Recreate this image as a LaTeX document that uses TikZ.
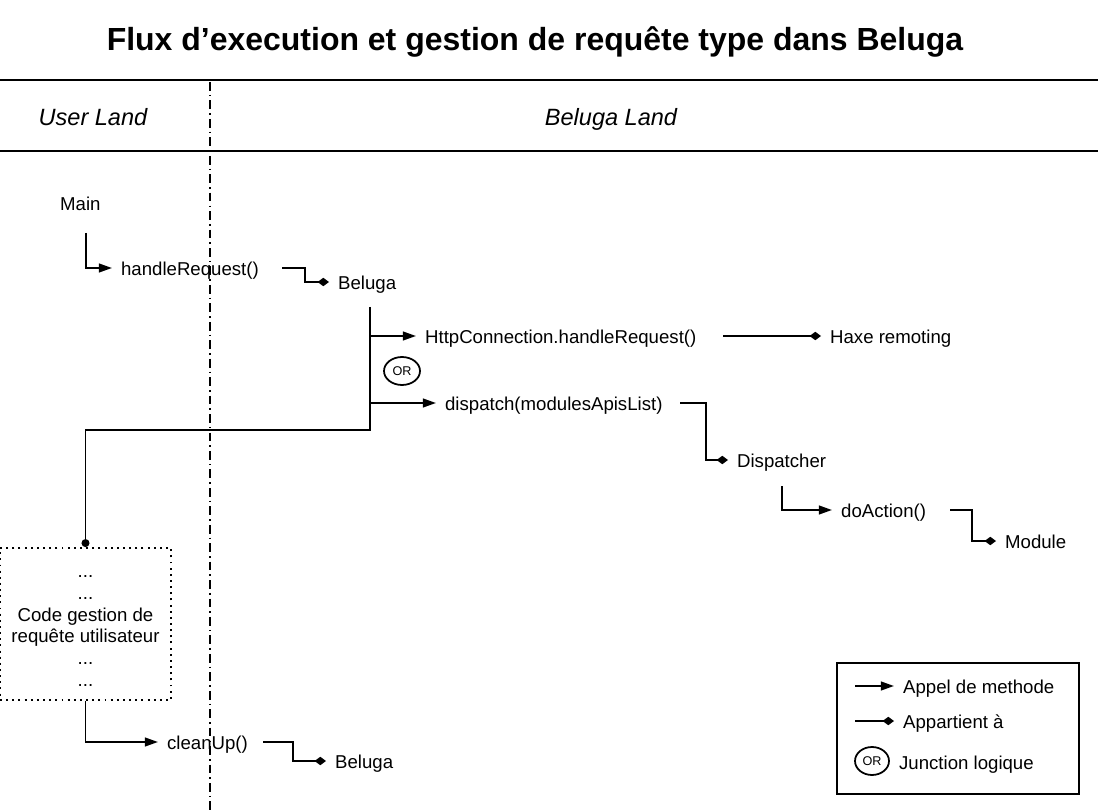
\documentclass[tikz,border=0pt]{standalone}
\usepackage{fontspec}
\setmainfont{Liberation Sans}
\usepackage{tikz}
\usetikzlibrary{shapes, arrows.meta, positioning}
\tikzstyle{txt} = [inner xsep=5pt, inner ysep=2pt, text height=10pt, text depth=2pt, anchor=west, font=\fontsize{10.6}{12.4}\selectfont]
\tikzstyle{land} = [font=\fontsize{13.4}{16}\selectfont\itshape]
\tikzstyle{line} = [draw, line width=1.1pt]
\tikzstyle{call} = [line, -{Triangle[length=7.5pt, width=5pt]}]
\tikzstyle{owns} = [line, -{Diamond[length=6.5pt, width=4.8pt]}]
\tikzstyle{orj} = [ellipse, draw, line width=1pt, minimum width=0.72cm, minimum height=0.56cm, inner sep=0pt, font=\fontsize{7.2}{8}\selectfont]
\tikzstyle{sep} = [draw, line width=0.9pt, dash pattern=on 5pt off 2.3pt on 0.9pt off 2.3pt]

\begin{document}
\begin{tikzpicture}[x=0.02cm, y=-0.02cm]
	\useasboundingbox (0,0) rectangle (1098,810);

	% header
	\node [font=\fontsize{18.2}{22}\selectfont\bfseries] (title) at (535,42) {Flux d’execution et gestion de requête type dans Beluga};
	\draw [line width=1.3pt] (0,80) -- (1098,80);
	\draw [line width=1.3pt] (0,151) -- (1098,151);
	\node [land] (userland) at (93,117) {User Land};
	\node [land] (belugaland) at (611,119) {Beluga Land};
	\path [sep] (210,82) -- (210,810);

	% calls
	\node [txt] (main) at (51,203) {Main};
	\node [txt] (handle) at (112,268) {handleRequest()};
	\node [txt] (bel1) at (329,282) {Beluga};
	\node [txt] (http) at (416,336) {HttpConnection.handleRequest()};
	\node [txt] (haxe) at (821,336) {Haxe remoting};
	\node [orj] (or1) at (402,371) {OR};
	\node [txt] (dispatch) at (436,403) {dispatch(modulesApisList)};
	\node [txt] (disp) at (728,460) {Dispatcher};
	\node [txt] (doaction) at (832,510) {doAction()};
	\node [txt] (module) at (996,541) {Module};
	\node [draw, line width=1.1pt, dash pattern=on 1.1pt off 2.4pt, minimum width=3.42cm, minimum height=3.04cm] (usercode) at (85.5,624) {};
	\node [align=center, font=\fontsize{10.6}{12.4}\selectfont] (usertext) at (85.5,631)
		{...\\...\\Code gestion de\\requête utilisateur\\...\\...};
	\node [txt] (cleanup) at (158,742) {cleanUp()};
	\node [txt] (bel2) at (326,761) {Beluga};
	\coordinate (bar) at (370,307);

	\path [call] ([shift={(35,30)}]main.west) |- (handle.west);
	\path [owns] ([shift={(170,0)}]handle.west) -- ++(23,0) |- (bel1.west);
	\path [line, -{Circle[length=4.5pt]}] (bar) -- ++(0,123) -| (usercode.north);
	\path [call] (bar |- http.west) -- (http.west);
	\path [call] (bar |- dispatch.west) -- (dispatch.west);
	\path [owns] ([shift={(307,0)}]http.west) -- (haxe.west);
	\path [owns] ([shift={(244,0)}]dispatch.west) -- ++(26,0) |- (disp.west);
	\path [call] ([shift={(54,26)}]disp.west) |- (doaction.west);
	\path [owns] ([shift={(118,0)}]doaction.west) -- ++(22,0) |- (module.west);
	\path [call] (usercode.south) |- (cleanup.west);
	\path [owns] ([shift={(105,0)}]cleanup.west) -- ++(30,0) |- (bel2.west);

	% legend
	\node [draw, line width=0.9pt, minimum width=4.84cm, minimum height=2.62cm] (legend) at (958,728.5) {};
	\node [txt] (lgcall) at (894,686) {Appel de methode};
	\node [txt] (lgowns) at (894,721) {Appartient à};
	\node [orj, minimum width=0.68cm] (lgor) at (872,761) {OR};
	\node [txt] (lgjunc) at (890,762) {Junction logique};
	\path [call] ([shift={(-39,0)}]lgcall.west) -- (lgcall.west);
	\path [owns] ([shift={(-39,0)}]lgowns.west) -- (lgowns.west);
\end{tikzpicture}
\end{document}
